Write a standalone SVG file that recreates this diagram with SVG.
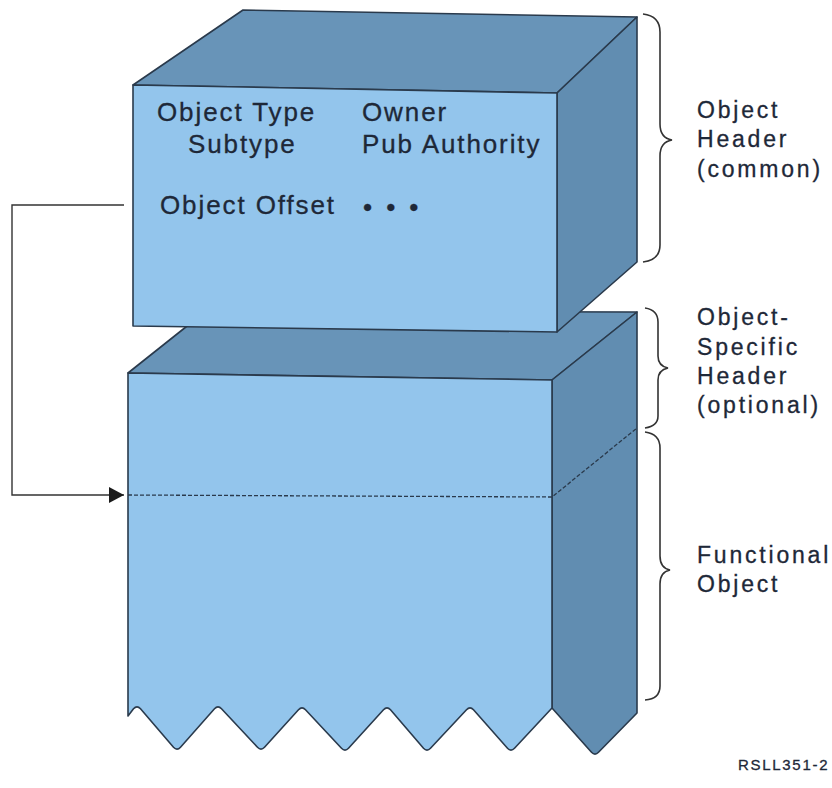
<svg xmlns="http://www.w3.org/2000/svg" width="832" height="788" viewBox="0 0 832 788">
  <style>
    .front { fill: #93c5ec; stroke: #2a3a4c; stroke-width: 1.6; stroke-linejoin: round; }
    .side { fill: #618db1; stroke: #2a3a4c; stroke-width: 1.6; stroke-linejoin: round; }
    .top { fill: #6894b8; stroke: #2a3a4c; stroke-width: 1.6; stroke-linejoin: round; }
    .txt { font-family: "Liberation Sans", Arial, sans-serif; fill: #1e2838; stroke: #1e2838; stroke-width: 0.3; }
    .inner { font-size: 26px; letter-spacing: 1.9px; }
    .dots { font-size: 26px; letter-spacing: 3.4px; }
    .lbl { font-size: 23px; letter-spacing: 2.8px; }
    .brace { fill: none; stroke: #333; stroke-width: 1.6; }
    .conn { fill: none; stroke: #333; stroke-width: 1.4; }
    .dash { fill: none; stroke: #2a3a4c; stroke-width: 1.3; stroke-dasharray: 4 2; }
  </style>
  <defs>
    <marker id="arrow" viewBox="0 0 15 16" refX="15" refY="8" markerWidth="15" markerHeight="16" markerUnits="userSpaceOnUse" orient="auto">
      <path d="M0,0 L15,8 L0,16 Z" fill="#1a1a1a"/>
    </marker>
  </defs>

  <rect width="832" height="788" fill="#ffffff"/>

  <!-- lower block: object-specific header + functional object -->
  <g id="lower-block">
    <polygon class="top" points="128,373 206,311 637,312 552,380"/>
    <path class="side" d="M552,380 L637,312 L637,713 L598.5,752.2 Q595,756 591.5,752.2 L552,708 Z"/>
    <path class="front" d="M128,373 L552,380 L552,708
      L514.5,748.2 Q511,752 507.5,748.2
      L473.5,709.8 Q470,706 466.5,709.8
      L430.5,748.2 Q427,752 423.5,748.2
      L390.5,709.8 Q387,706 383.5,709.8
      L348.5,748.2 Q345,752 341.5,748.2
      L305.5,709.8 Q302,706 298.5,709.8
      L264.5,747.2 Q261,751 257.5,747.2
      L221.5,708.8 Q218,705 214.5,708.8
      L180.5,747.2 Q177,751 173.5,747.2
      L140.5,708.8 Q137,705 133.5,708.8
      L128,716 Z"/>
    <path class="dash" d="M128,495 L552,497 L637,428"/>
  </g>

  <!-- upper block: common object header -->
  <g id="header-block">
    <polygon class="top" points="133,85 243,10 637,17 557,93"/>
    <polygon class="side" points="557,93 637,17 637,262 557,332"/>
    <polygon class="front" points="133,85 557,93 557,332 133,326"/>
    <text class="txt inner" x="157" y="121">Object Type</text>
    <text class="txt inner" x="188" y="153">Subtype</text>
    <text class="txt inner" x="362" y="121">Owner</text>
    <text class="txt inner" x="362" y="153">Pub Authority</text>
    <text class="txt inner" x="160" y="214">Object Offset</text>
    <text class="txt dots" x="363" y="216">• • •</text>
  </g>

  <!-- offset pointer -->
  <g id="connectors">
    <polyline class="conn" points="124,205 12,205 12,495 124,495" marker-end="url(#arrow)"/>
  </g>

  <!-- braces and region labels -->
  <g id="label-common">
    <path class="brace" d="M643,14 Q660,16 660,32 L660,124 Q660,138 672,140 Q660,142 660,156 L660,245 Q660,260 643,262"/>
    <text class="txt lbl" x="697" y="118">Object</text>
    <text class="txt lbl" x="697" y="147">Header</text>
    <text class="txt lbl" x="697" y="177">(common)</text>
  </g>
  <g id="label-specific">
    <path class="brace" d="M645,308 Q658,310 658,322 L658,356 Q658,366 668,368 Q658,370 658,380 L658,416 Q658,426 645,428"/>
    <text class="txt lbl" x="697" y="325">Object-</text>
    <text class="txt lbl" x="697" y="355">Specific</text>
    <text class="txt lbl" x="697" y="384">Header</text>
    <text class="txt lbl" x="697" y="413">(optional)</text>
  </g>
  <g id="label-functional">
    <path class="brace" d="M645,432 Q660,434 660,448 L660,556 Q660,568 670,570 Q660,572 660,584 L660,686 Q660,699 645,700"/>
    <text class="txt lbl" x="697" y="563">Functional</text>
    <text class="txt lbl" x="697" y="592">Object</text>
  </g>

  <text class="txt" x="738" y="770" font-size="15" letter-spacing="1.7">RSLL351-2</text>
</svg>
